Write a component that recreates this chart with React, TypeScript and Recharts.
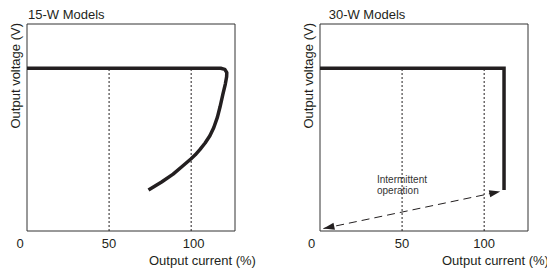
import React from "react";
import {
  LineChart,
  Line,
  XAxis,
  YAxis,
  ReferenceArea,
  ReferenceLine,
} from "recharts";

// output current (%) on x, output voltage (relative) on y
const currentTicks = [0, 50, 100];
const dashedCurrents = [50, 100];
const ratedVoltage = 78.6;

const curve15Current = [
  0, 118, 120.5, 121.7, 121.6, 120.8, 119.3, 117.6, 116, 113.8, 111.4, 108.5,
  105.3, 102.5, 99.8, 95, 89, 82, 74,
];
const curve15Voltage = [
  78.6, 78.6, 78.1, 76.5, 74.5, 71, 66, 60, 55, 50, 46, 42.5, 39.3, 36.8, 34.8,
  31.5, 27.5, 23.7, 19.8,
];

const curve30Current = [0, 112.1, 112.1];
const curve30Voltage = [78.6, 78.6, 19.8];

const arrowCurrent = [2.1, 109.8];
const arrowVoltage = [1.2, 19.1];

const X_MAX = 126.7;
const Y_MAX = 100;
const FONT = "'Liberation Sans', Arial, Helvetica, sans-serif";
const INK = "#231f20";

const toRows = (xs: number[], ys: number[]) =>
  xs.map((x, i) => ({ x, v: ys[i] }));

const makeTick = (offsets: Record<number, number>) => (props: any) => {
  const { x, y, payload } = props;
  return (
    <text
      x={x + (offsets[payload.value] ?? 0)}
      y={y + 9}
      textAnchor="middle"
      fontSize={13}
      fontFamily={FONT}
      fill={INK}
    >
      {payload.value}
    </text>
  );
};

const ArrowHead = (props: any) => {
  const { cx, cy, index, points } = props;
  if (!points || points.length < 2 || cx == null) return <g />;
  const other = points[index === 0 ? 1 : 0];
  const ang = Math.atan2(cy - other.y, cx - other.x);
  const len = 11;
  const half = 3.6;
  const bx = cx - len * Math.cos(ang);
  const by = cy - len * Math.sin(ang);
  const px = -Math.sin(ang) * half;
  const py = Math.cos(ang) * half;
  return (
    <polygon
      points={`${cx},${cy} ${bx + px},${by + py} ${bx - px},${by - py}`}
      fill={INK}
    />
  );
};

interface PanelProps {
  title: string;
  titleX: number;
  left: number;
  width: number;
  marginLeft: number;
  marginRight: number;
  tickOffsets: Record<number, number>;
  children?: React.ReactNode;
  extra?: React.ReactNode;
}

const Panel = ({
  title,
  titleX,
  left,
  width,
  marginLeft,
  marginRight,
  tickOffsets,
  children,
  extra,
}: PanelProps) => {
  const plotLeft = marginLeft;
  const plotRight = width - marginRight;
  return (
    <div style={{ position: "absolute", left, top: 0 }}>
      <LineChart
        width={width}
        height={270}
        margin={{ top: 24, right: marginRight, bottom: 9, left: marginLeft }}
      >
        <XAxis
          type="number"
          dataKey="x"
          domain={[0, X_MAX]}
          ticks={currentTicks}
          axisLine={false}
          tickLine={false}
          height={30}
          allowDataOverflow
          tick={makeTick(tickOffsets)}
        />
        <YAxis type="number" dataKey="v" domain={[0, Y_MAX]} hide />
        <ReferenceArea
          x1={0}
          x2={X_MAX}
          y1={0}
          y2={Y_MAX}
          fill="none"
          fillOpacity={0}
          stroke="#333"
          strokeWidth={1}
        />
        {dashedCurrents.map((c) => (
          <ReferenceLine
            key={c}
            segment={[
              { x: c, y: 0 },
              { x: c, y: ratedVoltage },
            ]}
            stroke={INK}
            strokeWidth={1}
            strokeDasharray="2 2"
          />
        ))}
        {children}
        <text x={titleX} y={19} fontSize={13} fontFamily={FONT} fill={INK}>
          {title}
        </text>
        <text
          x={plotLeft - 7.5}
          y={23}
          transform={`rotate(-90, ${plotLeft - 7.5}, 23)`}
          textAnchor="end"
          fontSize={13}
          fontFamily={FONT}
          fill={INK}
        >
          Output voltage (V)
        </text>
        <text
          x={plotLeft + 122}
          y={265}
          fontSize={13}
          fontFamily={FONT}
          fill={INK}
        >
          Output current (%)
        </text>
        {extra}
      </LineChart>
      <span style={{ display: "none" }}>{plotRight}</span>
    </div>
  );
};

export default function App() {
  return (
    <div
      style={{
        position: "absolute",
        left: 0,
        top: 0,
        width: 547,
        height: 270,
        background: "#fff",
        overflow: "hidden",
      }}
    >
      <Panel
        title="15-W Models"
        titleX={28}
        left={0}
        width={273}
        marginLeft={27}
        marginRight={38}
        tickOffsets={{ 0: -7, 50: 0, 100: 2.5 }}
      >
        <Line
          data={toRows(curve15Current, curve15Voltage)}
          dataKey="v"
          type="linear"
          stroke={INK}
          strokeWidth={3.5}
          strokeLinejoin="round"
          dot={false}
          isAnimationActive={false}
        />
      </Panel>
      <Panel
        title="30-W Models"
        titleX={55.7}
        left={273}
        width={274}
        marginLeft={47}
        marginRight={19}
        tickOffsets={{ 0: -8.5, 50: 0, 100: 0 }}
        extra={
          <>
            <text x={104} y={183} fontSize={10} fontFamily={FONT} fill="#333">
              Intermittent
            </text>
            <text x={104} y={194} fontSize={10} fontFamily={FONT} fill="#333">
              operation
            </text>
          </>
        }
      >
        <Line
          data={toRows(curve30Current, curve30Voltage)}
          dataKey="v"
          type="linear"
          stroke={INK}
          strokeWidth={3.5}
          strokeLinejoin="miter"
          dot={false}
          isAnimationActive={false}
        />
        <Line
          data={toRows(arrowCurrent, arrowVoltage)}
          dataKey="v"
          type="linear"
          stroke={INK}
          strokeWidth={1}
          strokeDasharray="8 5"
          dot={<ArrowHead />}
          activeDot={false}
          isAnimationActive={false}
        />
      </Panel>
    </div>
  );
}
